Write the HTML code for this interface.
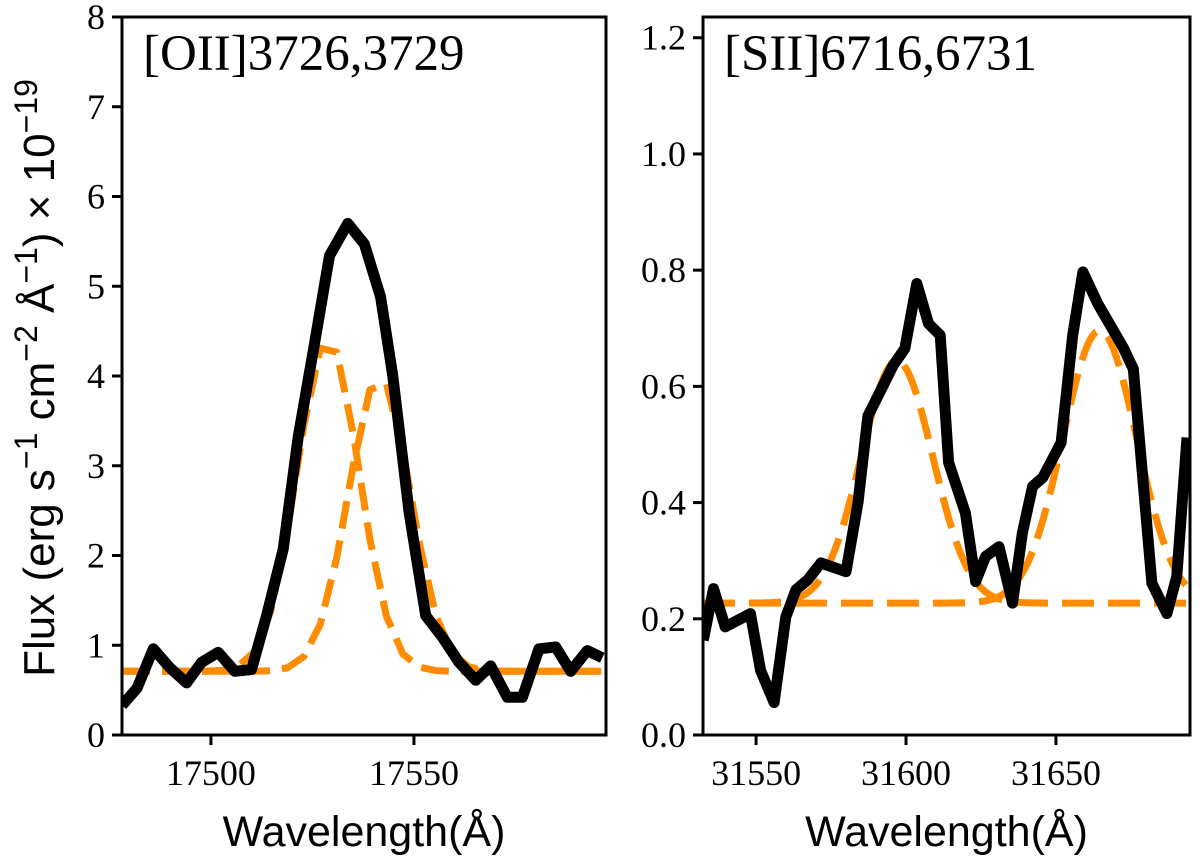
<!DOCTYPE html>
<html><head><meta charset="utf-8">
<style>
html,body{margin:0;padding:0;background:#fff;}
svg{display:block;}
.tick{font-family:"Liberation Serif",serif;font-size:36px;fill:#000;}
.lab{font-family:"Liberation Sans",sans-serif;font-size:43px;fill:#000;}
.ttl{font-family:"Liberation Serif",serif;font-size:51px;fill:#000;}
</style></head>
<body>
<svg id="chart" width="1200" height="864" viewBox="0 0 1200 864" xmlns="http://www.w3.org/2000/svg">
<defs>
<clipPath id="clipL"><rect x="122" y="17" width="484" height="718"/></clipPath>
<clipPath id="clipR"><rect x="703" y="17" width="487" height="718"/></clipPath>
</defs>
<g id="left"></g>
<g id="right"></g>
<text x="0" y="0" transform="translate(54,378) rotate(-90)" text-anchor="middle" style="font-family:'Liberation Sans',sans-serif;font-size:44px;">Flux (erg s<tspan dy="-17" font-size="32">−1</tspan><tspan dy="17"> cm</tspan><tspan dy="-17" font-size="32">−2</tspan><tspan dy="17"> Å</tspan><tspan dy="-17" font-size="32">−1</tspan><tspan dy="17">) × 10</tspan><tspan dy="-17" font-size="32">−19</tspan></text>
</svg>
<script>
// ---- [OII] panel data ----
const oiiWave = [17478.1,17481.8,17485.8,17489.9,17494.0,17497.7,17501.8,17505.9,17510.0,17513.7,17517.8,17521.5,17525.5,17529.2,17533.7,17537.8,17541.8,17544.8,17548.8,17552.9,17557.0,17561.1,17565.2,17568.9,17573.0,17576.7,17580.8,17584.9,17588.6,17592.7,17596.4];
const oiiFlux = [0.33,0.52,0.96,0.75,0.58,0.81,0.92,0.71,0.73,1.33,2.07,3.32,4.36,5.34,5.70,5.47,4.88,4.0,2.48,1.33,1.09,0.81,0.61,0.77,0.42,0.42,0.96,0.98,0.71,0.94,0.86];
const oiiBase = 0.71;
const oiiComp1 = [17528.8, 3.71, 7.6]; // center, amplitude, sigma
const oiiComp2 = [17541.5, 3.29, 7.6];
const oiiYTicks = [0,1,2,3,4,5,6,7,8];
const oiiXTicks = [17500,17550];

// ---- [SII] panel data ----
const siiWave = [31532.4,31535.8,31539.7,31548.1,31551.5,31556.0,31559.9,31563.3,31567.2,31571.6,31580.0,31584.0,31587.3,31590.7,31595.7,31599.6,31603.6,31607.5,31611.4,31614.2,31619.8,31623.2,31626.5,31631.0,31635.5,31638.8,31642.2,31645.6,31651.7,31655.6,31659.0,31664.0,31672.4,31675.8,31682.0,31687.0,31690.3,31693.7];
const siiFlux = [0.163,0.252,0.186,0.209,0.111,0.056,0.203,0.250,0.267,0.296,0.281,0.40,0.549,0.584,0.636,0.665,0.777,0.708,0.688,0.469,0.382,0.264,0.307,0.324,0.227,0.348,0.428,0.443,0.503,0.688,0.797,0.742,0.667,0.630,0.261,0.209,0.273,0.512];
const siiBase = 0.227;
const siiComp1 = [31597.0, 0.417, 11.9];
const siiComp2 = [31664.6, 0.469, 12.3];
const siiYTicks = [0.0,0.2,0.4,0.6,0.8,1.0,1.2];
const siiXTicks = [31550,31600,31650];

const NS = "http://www.w3.org/2000/svg";
function mk(tag, attrs, parent){const e=document.createElementNS(NS,tag);for(const k in attrs)e.setAttribute(k,attrs[k]);parent.appendChild(e);return e;}

function panel(g, cfg){
  const sx = v => cfg.x0 + (v-cfg.xmin)/(cfg.xmax-cfg.xmin)*(cfg.x1-cfg.x0);
  const sy = v => cfg.y0 - (v-cfg.ymin)/(cfg.ymax-cfg.ymin)*(cfg.y0-cfg.y1);
  const plot = mk('g',{'clip-path':'url(#'+cfg.clip+')'},g);
  [cfg.c1,cfg.c2].forEach((c,i)=>{
    let pts=[];
    for(let w=cfg.xmin; w<=cfg.xmax+0.001; w+=cfg.gstep){
      const v = cfg.base + c[1]*Math.exp(-0.5*Math.pow((w-c[0])/c[2],2));
      pts.push(sx(w).toFixed(1)+','+sy(v).toFixed(1));
    }
    const p = mk('polyline',{points:pts.join(' '),fill:'none',stroke:'#ff8c00','stroke-width':7,'stroke-dasharray':cfg.dash,'stroke-linejoin':'round'},plot);
    
    
  });
  const pts = cfg.wave.map((w,i)=>sx(w).toFixed(1)+','+sy(cfg.flux[i]).toFixed(1)).join(' ');
  const d = mk('polyline',{points:pts,fill:'none',stroke:'#000','stroke-width':11,'stroke-linejoin':'round'},plot);
  
  
  const fr = mk('rect',{x:cfg.x0,y:cfg.y1,width:cfg.x1-cfg.x0,height:cfg.y0-cfg.y1,fill:'none',stroke:'#000','stroke-width':3},g);
  
  
  cfg.yt.forEach(t=>{
    const y=sy(t);
    mk('line',{x1:cfg.x0-10,x2:cfg.x0,y1:y,y2:y,stroke:'#000','stroke-width':3},g);
    const tx=mk('text',{x:cfg.x0-17,y:y+12,'text-anchor':'end',class:'tick'},g);
    tx.textContent = t.toFixed(cfg.ydec);
    
    
  });
  cfg.xt.forEach(t=>{
    const x=sx(t);
    mk('line',{x1:x,x2:x,y1:cfg.y0,y2:cfg.y0+10,stroke:'#000','stroke-width':3},g);
    const tx=mk('text',{x:x,y:cfg.y0+50,'text-anchor':'middle',class:'tick'},g);
    tx.textContent = t;
    
    
  });
  const xl=mk('text',{x:(cfg.x0+cfg.x1)/2,y:846,'text-anchor':'middle',class:'lab'},g);
  xl.textContent='Wavelength(Å)';
  
  
  const tl=mk('text',{x:cfg.x0+21,y:70,class:'ttl'},g);
  tl.textContent=cfg.title;
  
  
}

panel(document.getElementById('left'),{x0:122,x1:606,y0:735,y1:17,xmin:17478.1,xmax:17597.3,ymin:0,ymax:8,
  wave:oiiWave,flux:oiiFlux,base:oiiBase,c1:oiiComp1,c2:oiiComp2,yt:oiiYTicks,xt:oiiXTicks,ydec:0,
  title:'[OII]3726,3729',clip:'clipL',gstep:4.07,dash:'28 12'});
panel(document.getElementById('right'),{x0:703,x1:1190,y0:735,y1:17,xmin:31532.3,xmax:31694.7,ymin:0,ymax:1.2357,
  wave:siiWave,flux:siiFlux,base:siiBase,c1:siiComp1,c2:siiComp2,yt:siiYTicks,xt:siiXTicks,ydec:1,
  title:'[SII]6716,6731',clip:'clipR',gstep:1,dash:'32 14'});
</script>
</body></html>
